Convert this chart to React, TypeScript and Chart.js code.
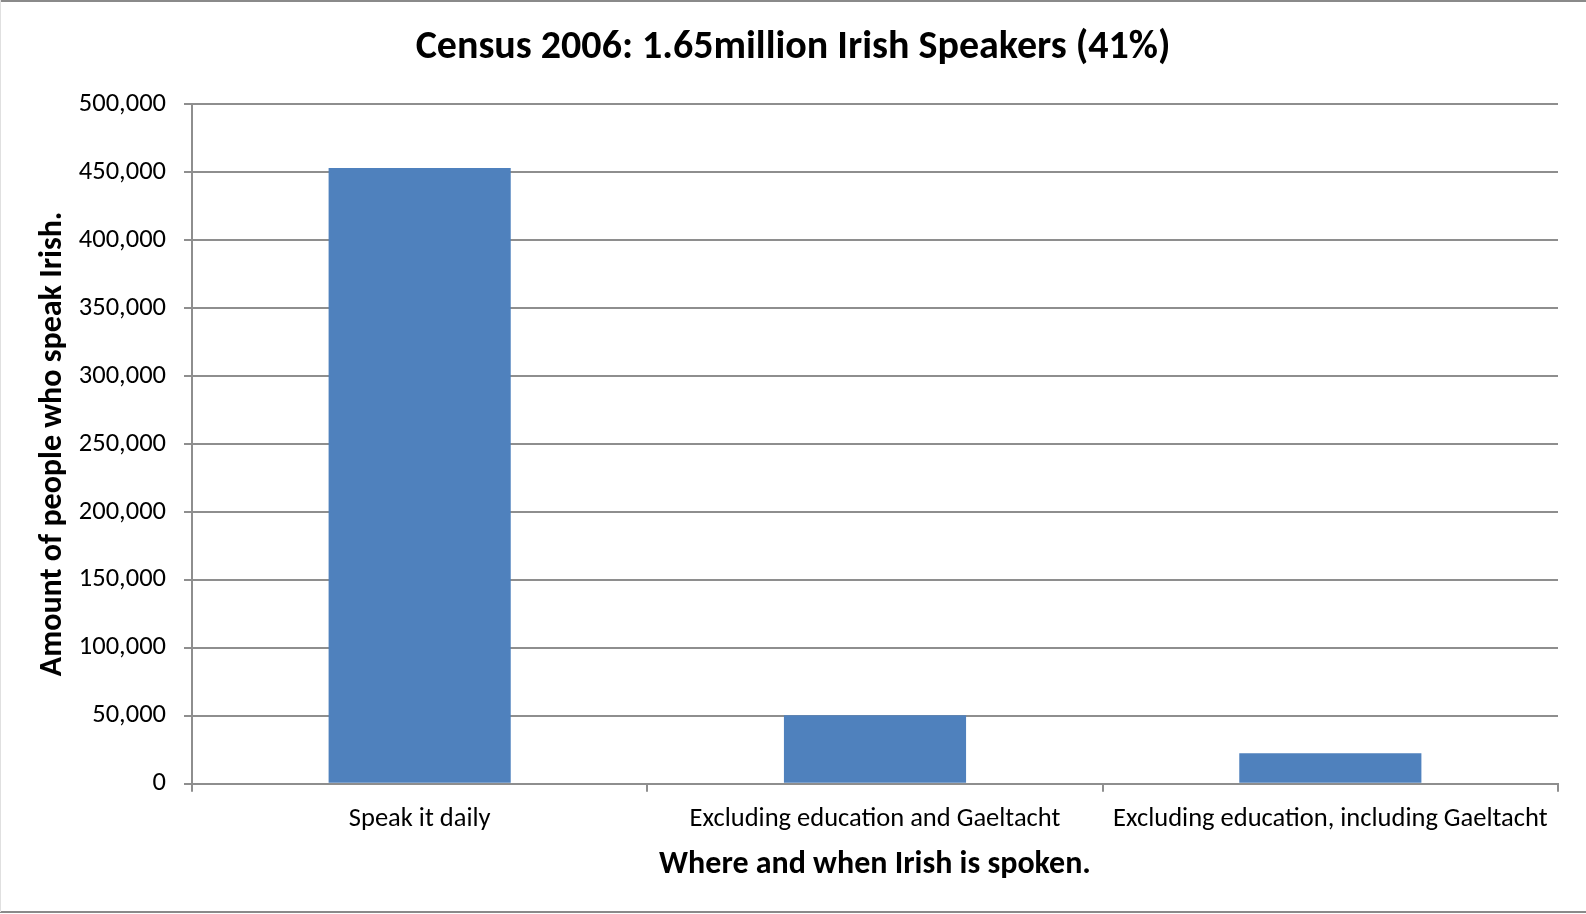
import React, { useEffect, useRef } from "react";
import { Chart, registerables } from "chart.js";

Chart.register(...registerables);

const categories = [
  "Speak it daily",
  "Excluding education and Gaeltacht",
  "Excluding education, including Gaeltacht",
];
const speakers = [453000, 50500, 22500];
const yTicks = [0, 50000, 100000, 150000, 200000, 250000, 300000, 350000, 400000, 450000, 500000];

const chartTitle = "Census 2006: 1.65million Irish Speakers (41%)";
const xTitle = "Where and when Irish is spoken.";
const yTitle = "Amount of people who speak Irish.";

const FONT = "Carlito, Lato, 'Noto Sans', sans-serif";
const GRID = "#8e8e8e";

const frame = {
  id: "frame",
  beforeDraw(chart: any) {
    const { ctx, width, height } = chart;
    ctx.save();
    ctx.fillStyle = "#ffffff";
    ctx.fillRect(0, 0, width, height);
    ctx.restore();
  },
  afterDraw(chart: any) {
    const { ctx, width } = chart;
    ctx.save();
    // centred chart title
    ctx.fillStyle = "#000";
    ctx.font = `bold 40px ${FONT}`;
    ctx.textAlign = "center";
    ctx.textBaseline = "middle";
    ctx.fillText(chartTitle, width / 2, 48);
    // frame
    ctx.strokeStyle = "#8a8a8a";
    ctx.lineWidth = 2;
    ctx.beginPath();
    ctx.moveTo(0, 1);
    ctx.lineTo(width, 1);
    ctx.moveTo(0, 912);
    ctx.lineTo(width, 912);
    ctx.stroke();
    ctx.strokeStyle = "#e0e0e0";
    ctx.lineWidth = 1;
    ctx.beginPath();
    ctx.moveTo(0.5, 0);
    ctx.lineTo(0.5, 912);
    ctx.stroke();
    ctx.restore();
  },
};

export default function App() {
  const ref = useRef<HTMLCanvasElement | null>(null);

  useEffect(() => {
    if (!ref.current) return;
    const chart = new Chart(ref.current, {
      type: "bar",
      data: {
        labels: categories,
        datasets: [
          {
            data: speakers,
            backgroundColor: "#4f81bd",
            borderWidth: 0,
            barPercentage: 0.4,
            categoryPercentage: 1,
          },
        ],
      },
      options: {
        animation: false,
        responsive: false,
        maintainAspectRatio: false,
        layout: { padding: { top: 104, right: 28, bottom: 28, left: 0 } },
        plugins: {
          legend: { display: false },
          tooltip: { enabled: false },
          title: { display: false },
        },
        scales: {
          x: {
            grid: {
              display: true,
              drawOnChartArea: false,
              offset: true,
              color: GRID,
              lineWidth: 2,
              tickLength: 8,
            },
            border: { display: true, color: GRID, width: 2 },
            ticks: {
              color: "#000",
              font: { family: FONT, size: 26.5 },
              padding: 12,
              maxRotation: 0,
            },
            title: {
              display: true,
              text: xTitle,
              color: "#000",
              font: { family: FONT, size: 32, weight: "bold" },
              padding: { top: -2, bottom: 2 },
            },
          },
          y: {
            min: 0,
            max: 500000,
            afterBuildTicks(scale: any) {
              scale.ticks = yTicks.map((v) => ({ value: v }));
            },
            afterFit(scale: any) {
              scale.width = 192;
            },
            grid: {
              color: GRID,
              lineWidth: 2,
              tickLength: 8,
            },
            border: { display: true, color: GRID, width: 2 },
            ticks: {
              color: "#000",
              font: { family: FONT, size: 26.5 },
              padding: 18,
              callback: (v: any) => Number(v).toLocaleString("en-US"),
            },
            title: {
              display: true,
              text: yTitle,
              color: "#000",
              font: { family: FONT, size: 32, weight: "bold" },
              padding: { top: 34, bottom: 4 },
            },
          },
        },
      },
      plugins: [frame],
    });
    return () => chart.destroy();
  }, []);

  return (
    <div style={{ position: "absolute", left: 0, top: 0, width: 1586, height: 914 }}>
      <canvas ref={ref} width={1586} height={914} style={{ display: "block", width: 1586, height: 914 }} />
    </div>
  );
}
